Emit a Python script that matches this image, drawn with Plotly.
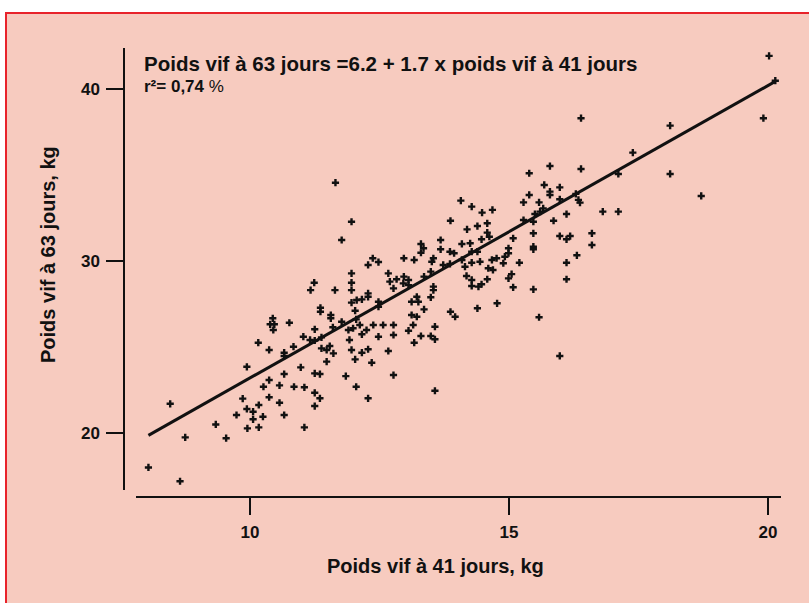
import plotly.graph_objects as go

# Live weight of each animal at 41 days (kg) and at 63 days (kg)
poids_41 = [
    8.04, 8.65, 8.46, 8.75, 9.34, 9.54, 9.74, 9.86, 9.94, 9.94,
    9.95, 10.06, 10.06, 10.16, 10.17, 10.17, 10.25, 10.26, 10.37, 10.37,
    10.37, 10.39, 10.44, 10.47, 10.45, 10.57, 10.57, 10.66, 10.66, 10.66,
    10.66, 10.76,
    11.65, 11.96, 11.77,
    12.37, 12.48, 12.28, 11.96, 11.96, 11.96, 11.24, 11.17, 11.64, 12.67,
    12.70, 12.83, 12.77, 12.28, 12.28, 12.06, 12.16, 11.96, 11.36, 11.36,
    11.56, 11.56, 12.48, 12.48, 12.03, 12.05, 12.12, 11.77, 11.60, 11.90,
    11.25, 11.03, 11.16, 11.25, 10.84, 11.38, 11.38, 11.48, 11.54, 11.61,
    11.99, 12.16, 12.25, 12.38, 12.57, 12.48, 12.77, 12.77, 11.92, 11.96,
    12.16, 12.28, 12.03, 12.35, 12.67, 11.48, 10.98, 11.25, 11.35, 11.85,
    12.77,
    10.85, 11.05, 11.25, 11.35, 11.25, 11.05, 12.05, 12.28,
    14.07, 14.28, 14.48, 14.68, 13.87, 14.39, 14.19, 14.58, 14.58, 14.62,
    14.47, 13.68, 13.30, 13.35, 13.30, 13.68, 14.09, 14.25, 14.28, 14.39,
    13.86, 13.94, 12.97, 13.17, 13.54, 13.51, 13.73, 13.86, 14.09, 14.15,
    14.28, 14.44, 14.67, 14.76, 14.60, 14.69, 13.49, 13.36, 12.97, 13.06,
    12.96, 13.06, 14.18, 14.28, 14.58, 14.28, 14.41, 14.47, 13.54, 13.54,
    13.49, 13.22, 13.12, 13.25, 13.36, 14.39, 14.77, 13.12, 13.22, 13.87,
    13.96, 13.15, 13.57, 13.06, 13.30, 13.49, 13.57, 13.17, 13.57,
    15.79, 15.39, 16.39, 15.68, 15.98, 15.79, 15.79, 15.39, 15.98, 15.28,
    15.58, 16.29, 16.34, 16.37, 15.66, 15.60, 15.50, 16.11, 15.28, 15.47,
    15.86, 15.08, 15.47, 15.98, 16.18, 16.11, 16.60, 16.60, 15.47, 15.47,
    16.31, 15.20, 14.99, 14.99, 14.92, 14.89, 16.11, 15.05, 14.99, 16.11,
    15.08, 15.47, 16.39, 15.58, 15.98,
    20.02, 20.14, 19.91, 18.11, 17.39, 17.11, 18.11, 18.71, 16.81, 17.11,
]
poids_63 = [
    18.0, 17.2, 21.7, 19.75, 20.5, 19.7, 21.05, 22.0, 23.85, 21.4,
    20.27, 21.24, 20.8, 25.25, 21.63, 20.33, 20.95, 22.69, 24.83, 23.08,
    22.08, 26.32, 26.67, 26.32, 25.99, 22.77, 21.76, 23.43, 24.67, 24.48,
    21.05, 26.41,
    34.55, 32.28, 31.22,
    30.16, 29.94, 29.77, 29.28, 28.74, 28.31, 28.74, 28.31, 28.31, 29.28,
    28.8, 28.94, 28.41, 28.12, 27.92, 27.73, 27.77, 27.58, 27.28, 27.05,
    26.86, 26.67, 27.63, 27.34, 27.11, 26.61, 26.28, 26.47, 26.15, 25.99,
    26.03, 25.6, 25.41, 25.38, 25.02, 25.56, 24.92, 24.83, 25.06, 24.63,
    26.09, 25.74, 25.99, 26.28, 26.28, 25.6, 26.28, 25.7, 25.41, 24.83,
    24.67, 24.87, 24.28, 24.09, 24.77, 24.15, 23.82, 23.47, 23.43, 23.31,
    23.37,
    22.69, 22.66, 22.34, 22.02, 21.57, 20.33, 22.69, 22.02,
    33.51, 33.16, 32.81, 32.97, 32.34, 32.03, 31.84, 32.19, 31.65, 31.41,
    31.26, 31.22, 30.99, 30.74, 30.48, 30.68, 30.99, 31.03, 30.54, 30.54,
    30.54, 30.45, 30.16, 30.06, 30.16, 29.96, 29.77, 29.83, 30.06, 29.67,
    29.90, 29.96, 30.06, 30.16, 29.58, 29.48, 29.38, 29.09, 29.09, 28.90,
    28.70, 28.60, 29.13, 28.90, 28.94, 28.55, 28.51, 28.65, 28.51, 28.31,
    27.89, 27.92, 27.63, 27.63, 27.19, 27.25, 27.54, 26.86, 26.76, 27.05,
    26.76, 26.28, 26.18, 25.95, 25.64, 25.64, 25.45, 25.25, 22.46,
    35.52, 35.10, 35.35, 34.42, 34.28, 34.03, 33.84, 33.84, 33.59, 33.41,
    33.41, 33.90, 33.55, 33.39, 33.06, 32.87, 32.73, 32.73, 32.38, 32.28,
    32.34, 31.32, 31.61, 31.45, 31.45, 31.26, 31.61, 30.93, 30.83, 30.68,
    30.33, 29.90, 30.74, 30.45, 30.25, 29.87, 29.90, 29.24, 28.99, 28.94,
    28.47, 28.35, 38.30, 26.73, 24.48,
    41.92, 40.48, 38.30, 37.87, 36.30, 35.06, 35.06, 33.78, 32.87, 32.87,
]

# Fitted regression: poids 63 j = 6.2 + 1.7 x poids 41 j
intercept = 6.2
slope = 1.7

x_ticks = [10, 15, 20]
y_ticks = [20, 30, 40]

W, H = 809, 603
PINK = "#f7cbbf"
RED = "#e8232b"
INK = "#111111"
FONT = "Liberation Sans, Arial, sans-serif"

line_x = [min(poids_41), max(poids_41)]
line_y = [intercept + slope * v for v in line_x]

fig = go.Figure()
fig.add_trace(go.Scatter(
    x=poids_41, y=poids_63, mode="markers",
    marker=dict(symbol="cross", size=6, color=INK, line=dict(width=0)),
    hoverinfo="x+y", showlegend=False,
))
fig.add_trace(go.Scatter(
    x=line_x, y=line_y, mode="lines",
    line=dict(color=INK, width=3), showlegend=False, hoverinfo="skip",
))

px = lambda v: v / W
py = lambda v: 1 - v / H

axis_common = dict(
    showline=True, linecolor=INK, linewidth=1.5,
    ticks="outside", ticklen=17, tickwidth=1.5, tickcolor=INK,
    showgrid=False, zeroline=False,
    tickfont=dict(family=FONT, size=17, color=INK, weight="bold"),
)

fig.update_layout(
    width=W, height=H,
    margin=dict(l=0, r=0, t=0, b=0),
    paper_bgcolor="white",
    plot_bgcolor="rgba(0,0,0,0)",
    xaxis=dict(
        range=[7.80, 20.25], domain=[px(136), px(781)],
        anchor="free", position=py(497),
        tickvals=x_ticks, ticklabelstandoff=3, **axis_common,
    ),
    yaxis=dict(
        range=[16.69, 42.38], domain=[py(490), py(48)],
        anchor="free", position=px(124),
        tickvals=y_ticks, ticklabelstandoff=3, **axis_common,
    ),
    shapes=[dict(
        type="rect", xref="paper", yref="paper", layer="below",
        x0=px(6), x1=1.05, y0=-0.05, y1=py(13),
        fillcolor=PINK, line=dict(color=RED, width=2),
    )],
    annotations=[
        dict(text="<b>Poids vif à 63 jours =6.2 + 1.7 x poids vif à 41 jours</b>",
             xref="paper", yref="paper", x=px(142), y=py(64),
             xanchor="left", yanchor="middle", showarrow=False,
             font=dict(family=FONT, size=20.5, color=INK)),
        dict(text="<b>r²= 0,74</b> %",
             xref="paper", yref="paper", x=px(142), y=py(86),
             xanchor="left", yanchor="middle", showarrow=False,
             font=dict(family=FONT, size=17, color=INK)),
        dict(text="<b>Poids vif à 41 jours, kg</b>",
             xref="paper", yref="paper", x=px(435), y=py(566),
             xanchor="center", yanchor="middle", showarrow=False,
             font=dict(family=FONT, size=20, color=INK)),
        dict(text="<b>Poids vif à 63 jours, kg</b>",
             xref="paper", yref="paper", x=px(48), y=py(255),
             xanchor="center", yanchor="middle", showarrow=False, textangle=-90,
             font=dict(family=FONT, size=20, color=INK)),
    ],
)

fig.write_html("out.html")
